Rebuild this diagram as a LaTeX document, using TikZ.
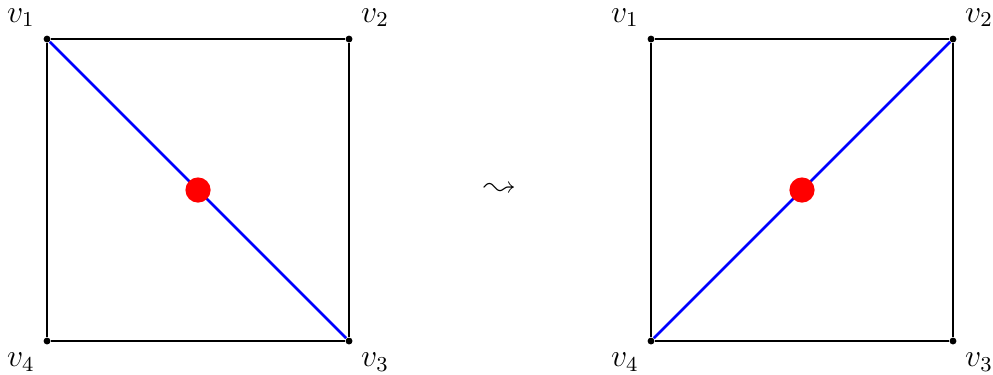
\documentclass[tikz,border=0pt]{standalone}
\usepackage{latexsym}
\usepackage{tikz}
\usetikzlibrary{positioning}

\begin{document}
\begin{tikzpicture}[
      font=\large,
      vert/.style={circle, fill=black, inner sep=0pt, minimum size=2.6pt},
      edge/.style={draw=black, line width=0.9pt},
      diag/.style={draw=blue, line width=1pt},
      mid/.style={circle, fill=red, inner sep=0pt, minimum size=9.5pt}]
    \useasboundingbox (-0.623,-0.437) rectangle (12.53,4.517);

    % left square
    \node[vert, label={above left:$v_1$}]  (la) at (0,4) {};
    \node[vert, label={above right:$v_2$}] (lb) at (4,4) {};
    \node[vert, label={below right:$v_3$}] (lc) at (4,0) {};
    \node[vert, label={below left:$v_4$}]  (ld) at (0,0) {};
    \draw[edge] (la) -- (lb) -- (lc) -- (ld) -- (la);
    \draw[diag] (la) -- (lc);
    \node[mid] (lm) at (2,2) {};

    \node (flip) at (6,2) {$\leadsto$};

    % right square
    \node[vert, label={above left:$v_1$}]  (ra) at (8,4) {};
    \node[vert, label={above right:$v_2$}] (rb) at (12,4) {};
    \node[vert, label={below right:$v_3$}] (rc) at (12,0) {};
    \node[vert, label={below left:$v_4$}]  (rd) at (8,0) {};
    \draw[edge] (ra) -- (rb) -- (rc) -- (rd) -- (ra);
    \draw[diag] (rd) -- (rb);
    \node[mid] (rm) at (10,2) {};
  \end{tikzpicture}
\end{document}
